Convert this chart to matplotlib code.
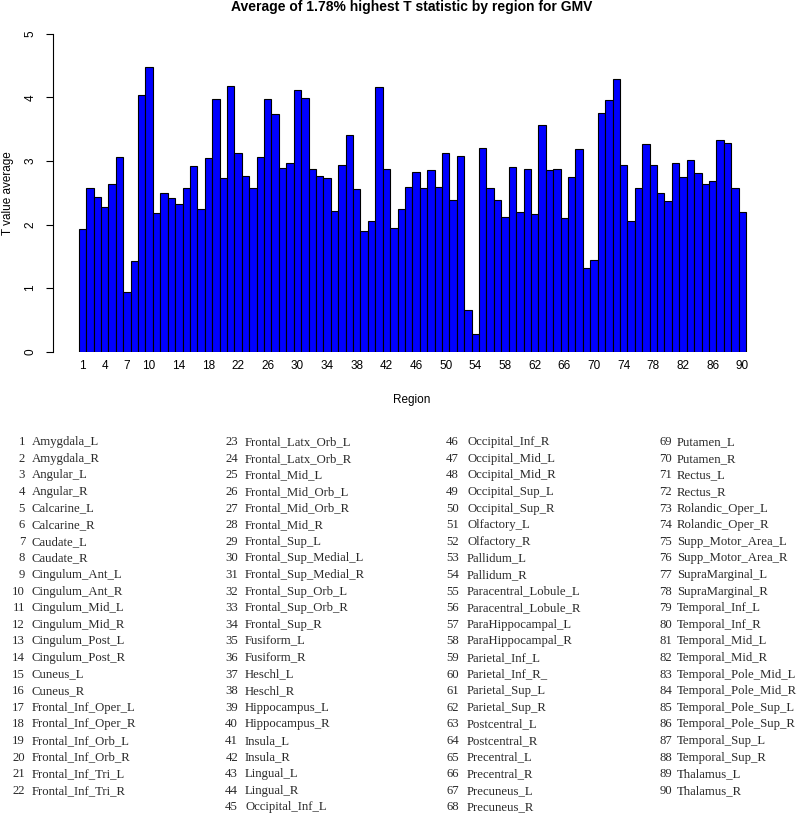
import matplotlib
matplotlib.use("Agg")
import matplotlib.pyplot as plt
import numpy as np

plt.rcParams['font.family'] = ['Liberation Sans', 'DejaVu Sans']

title = "Average of 1.78% highest T statistic by region for GMV"
ylabel = "T value average"
xlabel = "Region"

region_idx = list(range(1, 91))
t_values = [
    1.93, 2.58, 2.43, 2.27, 2.63, 3.06, 0.94, 1.42, 4.04, 4.48,
    2.18, 2.49, 2.42, 2.32, 2.58, 2.92, 2.25, 3.05, 3.97, 2.73,
    4.17, 3.13, 2.77, 2.58, 3.06, 3.97, 3.73, 2.89, 2.96, 4.11,
    3.99, 2.87, 2.77, 2.73, 2.22, 2.94, 3.40, 2.56, 1.89, 2.06,
    4.16, 2.88, 1.94, 2.25, 2.59, 2.82, 2.57, 2.85, 2.59, 3.12,
    2.39, 3.07, 0.65, 0.28, 3.21, 2.57, 2.38, 2.12, 2.91, 2.19,
    2.88, 2.16, 3.56, 2.86, 2.87, 2.10, 2.75, 3.18, 1.32, 1.44,
    3.76, 3.95, 4.28, 2.93, 2.06, 2.57, 3.26, 2.94, 2.50, 2.37,
    2.96, 2.74, 3.02, 2.81, 2.63, 2.69, 3.33, 3.28, 2.58, 2.20,
]
xtick_labels = [1, 4, 7, 10, 14, 18, 22, 26, 30, 34, 38, 42, 46, 50, 54,
                58, 62, 66, 70, 74, 78, 82, 86, 90]
yticks = [0, 1, 2, 3, 4, 5]

region_names = [
    "Amygdala_L", "Amygdala_R", "Angular_L", "Angular_R", "Calcarine_L",
    "Calcarine_R", "Caudate_L", "Caudate_R", "Cingulum_Ant_L", "Cingulum_Ant_R",
    "Cingulum_Mid_L", "Cingulum_Mid_R", "Cingulum_Post_L", "Cingulum_Post_R",
    "Cuneus_L", "Cuneus_R", "Frontal_Inf_Oper_L", "Frontal_Inf_Oper_R",
    "Frontal_Inf_Orb_L", "Frontal_Inf_Orb_R", "Frontal_Inf_Tri_L", "Frontal_Inf_Tri_R",
    "Frontal_Latx_Orb_L", "Frontal_Latx_Orb_R", "Frontal_Mid_L", "Frontal_Mid_Orb_L",
    "Frontal_Mid_Orb_R", "Frontal_Mid_R", "Frontal_Sup_L", "Frontal_Sup_Medial_L",
    "Frontal_Sup_Medial_R", "Frontal_Sup_Orb_L", "Frontal_Sup_Orb_R", "Frontal_Sup_R",
    "Fusiform_L", "Fusiform_R", "Heschl_L", "Heschl_R", "Hippocampus_L",
    "Hippocampus_R", "Insula_L", "Insula_R", "Lingual_L", "Lingual_R",
    "Occipital_Inf_L", "Occipital_Inf_R", "Occipital_Mid_L", "Occipital_Mid_R",
    "Occipital_Sup_L", "Occipital_Sup_R", "Olfactory_L", "Olfactory_R",
    "Pallidum_L", "Pallidum_R", "Paracentral_Lobule_L", "Paracentral_Lobule_R",
    "ParaHippocampal_L", "ParaHippocampal_R", "Parietal_Inf_L", "Parietal_Inf_R_",
    "Parietal_Sup_L", "Parietal_Sup_R", "Postcentral_L", "Postcentral_R",
    "Precentral_L", "Precentral_R", "Precuneus_L", "Precuneus_R",
    "Putamen_L", "Putamen_R", "Rectus_L", "Rectus_R", "Rolandic_Oper_L",
    "Rolandic_Oper_R", "Supp_Motor_Area_L", "Supp_Motor_Area_R", "SupraMarginal_L",
    "SupraMarginal_R", "Temporal_Inf_L", "Temporal_Inf_R", "Temporal_Mid_L",
    "Temporal_Mid_R", "Temporal_Pole_Mid_L", "Temporal_Pole_Mid_R",
    "Temporal_Pole_Sup_L", "Temporal_Pole_Sup_R", "Temporal_Sup_L",
    "Temporal_Sup_R", "Thalamus_L", "Thalamus_R",
]
column_starts = [1, 23, 46, 69]
column_ends = [22, 45, 68, 90]

W, H = 800, 815
fig = plt.figure(figsize=(W / 100, H / 100), dpi=100)

# axes geometry in pixels
ax_left, ax_right = 53, 772
ax_top, ax_bottom = 33.7, 351.7
ax = fig.add_axes([ax_left / W, 1 - ax_bottom / H,
                   (ax_right - ax_left) / W, (ax_bottom - ax_top) / H])

ax.bar(region_idx, t_values, width=1.0, color='#0000FF',
       edgecolor='black', linewidth=0.8)

px_per_unit = (746 - 78.7) / 90.0
x0 = 0.5 - (78.7 - ax_left) / px_per_unit
x1 = 90.5 + (ax_right - 746) / px_per_unit
ax.set_xlim(x0, x1)
ax.set_ylim(0, 5)

for s in ['top', 'right', 'bottom']:
    ax.spines[s].set_visible(False)
ax.spines['left'].set_linewidth(0.8)

ax.set_xticks(xtick_labels)
ax.set_xticklabels([str(v) for v in xtick_labels], fontsize=8.5)
ax.tick_params(axis='x', length=0, pad=6)
ax.set_yticks(yticks)
ax.set_yticklabels([str(v) for v in yticks], fontsize=8.5, rotation=90, va='center')
ax.tick_params(axis='y', length=5, width=0.8, pad=7)

fig.text(412 / W, 1 - 7 / H, title, ha='center', va='center',
         fontsize=10, fontweight='bold')
fig.text(8 / W, 1 - 193 / H, ylabel, ha='center', va='center',
         rotation=90, fontsize=8.5)
fig.text(412 / W, 1 - 400 / H, xlabel, ha='center', va='center', fontsize=8.5)

# region list
num_right = [25, 238, 459, 672]
name_left = [32, 245, 467, 677]
row0 = 442.3
row_step = 16.59
txt_color = '#2a2a2a'
for c in range(4):
    for k, idx in enumerate(range(column_starts[c], column_ends[c] + 1)):
        y = 1 - (row0 + k * row_step) / H
        fig.text(num_right[c] / W, y, str(idx), ha='right', va='center',
                 fontsize=9.2, family='Liberation Serif', color=txt_color)
        fig.text(name_left[c] / W, y, region_names[idx - 1], ha='left', va='center',
                 fontsize=9.2, family='Liberation Serif', color=txt_color)

fig.savefig("out.png", dpi=100)
